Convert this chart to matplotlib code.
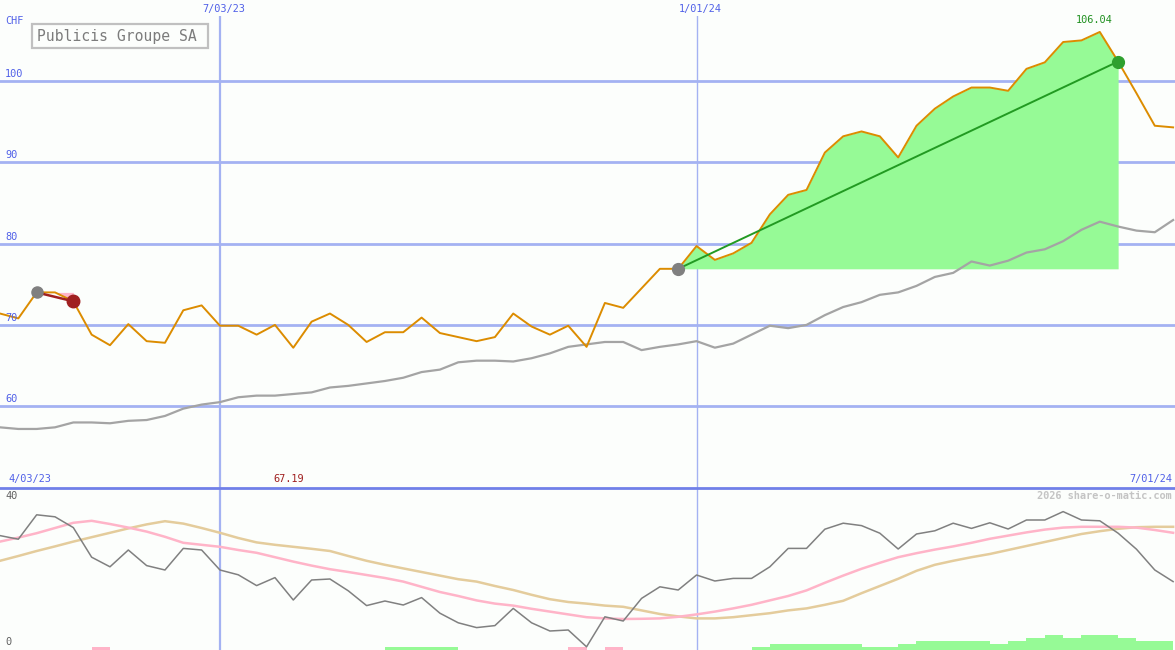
import numpy as np
import matplotlib
matplotlib.use("Agg")
import matplotlib.pyplot as plt
from matplotlib.patches import Rectangle

# weekly closes, Publicis Groupe SA (CHF)
price = [71.4, 70.8, 74.0, 74.0, 72.9, 68.8, 67.5, 70.1, 68.0, 67.8,
         71.8, 72.4, 69.9, 69.9, 68.8, 70.0, 67.19, 70.4, 71.4, 70.0,
         67.9, 69.1, 69.1, 70.9, 69.0, 68.5, 68.0, 68.5, 71.4, 69.8,
         68.8, 69.9, 67.3, 72.7, 72.1, 74.5, 76.9, 76.9, 79.7, 78.0,
         78.8, 80.1, 83.6, 86.0, 86.6, 91.2, 93.2, 93.8, 93.2, 90.6,
         94.5, 96.6, 98.1, 99.2, 99.2, 98.8, 101.5, 102.3, 104.8, 105.0,
         106.04, 102.4, 98.5, 94.5, 94.3]
ma_long = [57.4, 57.2, 57.2, 57.4, 58.0, 58.0, 57.9, 58.2, 58.3, 58.8,
           59.7, 60.2, 60.5, 61.1, 61.3, 61.3, 61.5, 61.7, 62.3, 62.5,
           62.8, 63.1, 63.5, 64.2, 64.5, 65.4, 65.6, 65.6, 65.5, 65.9,
           66.5, 67.3, 67.6, 67.9, 67.9, 66.9, 67.3, 67.6, 68.0, 67.2,
           67.7, 68.8, 69.9, 69.6, 70.0, 71.2, 72.2, 72.8, 73.7, 74.0,
           74.8, 75.9, 76.4, 77.8, 77.3, 77.9, 78.9, 79.3, 80.3, 81.7,
           82.7, 82.1, 81.6, 81.4, 82.9]
osc = [28.6, 27.7, 33.8, 33.3, 30.6, 23.2, 20.8, 25.0, 21.1, 20.0,
       25.4, 25.0, 20.0, 18.8, 16.1, 18.1, 12.5, 17.5, 17.75, 14.8,
       11.1, 12.25, 11.25, 13.1, 9.2, 6.8, 5.6, 6.1, 10.4, 6.8,
       4.75, 5.0, 0.8, 8.3, 7.25, 12.9, 15.8, 15.0, 18.75, 17.25,
       17.9, 17.9, 20.8, 25.4, 25.4, 30.2, 31.7, 31.1, 29.2, 25.25,
       29.0, 29.8, 31.7, 30.4, 31.8, 30.25, 32.5, 32.5, 34.6, 32.5,
       32.3, 29.2, 25.2, 20.0, 17.1]
osc_fast = [27.1, 28.1, 29.2, 30.5, 31.8, 32.3, 31.5, 30.6, 29.6, 28.3,
            26.8, 26.3, 25.8, 25.0, 24.3, 23.2, 22.1, 21.1, 20.2, 19.5,
            18.75, 18.0, 17.1, 15.8, 14.5, 13.5, 12.4, 11.6, 11.1, 10.3,
            9.6, 8.9, 8.2, 7.9, 7.75, 7.8, 7.9, 8.3, 8.9, 9.6,
            10.4, 11.3, 12.4, 13.5, 14.9, 16.8, 18.6, 20.3, 21.8, 23.2,
            24.2, 25.1, 25.9, 26.8, 27.8, 28.6, 29.4, 30.1, 30.6, 30.8,
            30.8, 30.8, 30.6, 30.0, 29.3]
osc_slow = [22.3, 23.5, 24.75, 25.9, 27.1, 28.2, 29.3, 30.4, 31.4, 32.2,
            31.6, 30.5, 29.3, 28.0, 26.9, 26.3, 25.8, 25.3, 24.75, 23.5,
            22.3, 21.3, 20.4, 19.5, 18.6, 17.7, 17.1, 16.0, 15.0, 13.8,
            12.7, 12.0, 11.6, 11.1, 10.8, 9.9, 9.0, 8.4, 7.9, 7.9,
            8.2, 8.7, 9.2, 9.9, 10.4, 11.3, 12.3, 14.2, 16.0, 17.8,
            19.8, 21.3, 22.3, 23.2, 24.0, 25.0, 26.0, 27.0, 28.0, 29.0,
            29.7, 30.3, 30.7, 30.8, 30.8]
hist = [0, 0, 0, 0, 0, -0.75, 0, 0, 0, 0,
        0, 0, 0, 0, 0, 0, 0, 0, 0, 0,
        0, 0.75, 0.75, 0.75, 0.75, 0, 0, 0, 0, 0,
        0, -0.75, 0, -0.75, 0, 0, 0, 0, 0, 0,
        0, 0.75, 1.5, 1.5, 1.5, 1.5, 1.5, 0.75, 0.75, 1.5,
        2.25, 2.25, 2.25, 2.25, 1.5, 2.25, 3.0, 3.75, 3.0, 3.75,
        3.75, 3.0, 2.25, 2.25, 0]
price_ticks = [60, 70, 80, 90, 100]
date_ticks = {12: "7/03/23", 38: "1/01/24"}
start_label, end_label = "4/03/23", "7/01/24"
sell_idx = (2, 4)
buy_idx = (37, 61)

W, H = 1175, 650
bg = "#fcfefc"
grid_c = "#a4b2f2"
lab_c = "#5060e8"
mono = "DejaVu Sans Mono"

weeks = np.arange(len(price))
p = np.array(price)
xmax = W / 18.33

fig = plt.figure(figsize=(W / 100, H / 100), dpi=100, facecolor=bg)
ax = fig.add_axes([0, 163 / H, 1, (487 - 16) / H], facecolor=bg)
ax2 = fig.add_axes([0, 0, 1, 163 / H], facecolor=bg)
for a in (ax, ax2):
    a.set_xlim(0, xmax)
    a.set_xticks([])
    a.set_yticks([])
    for s in a.spines.values():
        s.set_visible(False)
ax.set_ylim(50.06, 108.0)
ax2.set_ylim(0, 40.75)

# grid
for t in price_ticks:
    ax.axhline(t, color=grid_c, lw=2, zorder=1)
    ax.annotate(str(t), (5 / W, t), xycoords=("axes fraction", "data"),
                xytext=(0, 2), textcoords="offset pixels", va="bottom",
                ha="left", color=lab_c, family=mono, fontsize=7.4, zorder=6)
for i, (k, lab) in enumerate(date_ticks.items()):
    lw = 1.6 if i == 0 else 1.0
    ax.axvline(k, color=grid_c, lw=lw, zorder=1)
    ax2.axvline(k, color=grid_c, lw=lw, zorder=1)
    fig.text((k * 18.33 + 4) / W, 1 - 9 / H, lab, ha="center", va="center",
             color=lab_c, family=mono, fontsize=7.4)
ax2.axhline(40.6, color="#7080e8", lw=2, zorder=5, clip_on=False)

# buy / sell periods
b0, b1 = buy_idx
xs = weeks[b0:b1 + 1]
ax.fill_between(xs, p[b0:b1 + 1], p[b0], where=p[b0:b1 + 1] >= p[b0],
                interpolate=True, color="#96fa96", lw=0, zorder=2)
s0, s1 = sell_idx
xs = weeks[s0:s1 + 1]
ax.fill_between(xs, p[s0:s1 + 1], p[s0], where=p[s0:s1 + 1] <= p[s0],
                interpolate=True, color="#ffb4c8", lw=0, zorder=2)

ax.plot(weeks, ma_long, color="#a4a4a4", lw=1.6, zorder=3)
ax.plot(weeks, price, color="#dc8c00", lw=1.4, zorder=4)
ax.plot([b0, b1], [p[b0], p[b1]], color="#229a22", lw=1.4, zorder=5)
ax.plot([s0, s1], [p[s0], p[s1]], color="#a02020", lw=1.8, zorder=5)
ax.plot(b0, p[b0], "o", color="#808080", ms=8.5, zorder=6)
ax.plot(b1, p[b1], "o", color="#2ea02e", ms=8.5, zorder=6)
ax.plot(s0, p[s0], "o", color="#808080", ms=8, zorder=6)
ax.plot(s1, p[s1], "o", color="#a02020", ms=9, zorder=6)

imax = int(np.argmax(p))
ax.annotate(f"{p[imax]:.2f}", (imax, p[imax]), xytext=(-6, 7),
            textcoords="offset pixels", ha="center", va="bottom",
            color="#209020", family=mono, fontsize=7.4, zorder=6)
imin = int(np.argmin(p))
fig.text((imin * 18.33 - 5) / W, 1 - 479 / H, f"{p[imin]:.2f}", ha="center",
         va="center", color="#a02020", family=mono, fontsize=7.4)

# title box
fig.add_artist(Rectangle((32 / W, 1 - 48 / H), 176 / W, 24 / H,
                         transform=fig.transFigure, fc="#fcfefc",
                         ec="#c0c0c0", lw=1.6, zorder=7))
fig.text(37 / W, 1 - 36.5 / H, "Publicis Groupe SA", ha="left", va="center",
         color="#7c7c7c", family=mono, fontsize=10.6, zorder=8)
fig.text(5 / W, 1 - 21 / H, "CHF", ha="left", va="center", color=lab_c,
         family=mono, fontsize=7.4)
fig.text(8 / W, 1 - 479 / H, start_label, ha="left", va="center",
         color=lab_c, family=mono, fontsize=7.4)
fig.text(1172 / W, 1 - 479 / H, end_label, ha="right", va="center",
         color=lab_c, family=mono, fontsize=7.4)

# oscillator panel
colors = ["#96fa96" if v > 0 else "#ffb4c8" for v in hist]
ax2.bar(weeks, np.abs(hist), width=1.0, align="edge", color=colors, lw=0,
        zorder=2)
ax2.plot(weeks, osc_slow, color="#e4cc9c", lw=1.8, zorder=3)
ax2.plot(weeks, osc_fast, color="#ffb4c8", lw=1.8, zorder=3)
ax2.plot(weeks, osc, color="#808080", lw=1.1, zorder=4)
fig.text(5 / W, 1 - 496 / H, "40", ha="left", va="center", color="#606060",
         family=mono, fontsize=7.4)
fig.text(5 / W, 1 - 642 / H, "0", ha="left", va="center", color="#606060",
         family=mono, fontsize=7.4)
fig.text(1172 / W, 1 - 496 / H, "2026 share-o-matic.com", ha="right",
         va="center", color="#c4c4c4", family=mono, fontsize=7.4,
         fontweight="bold")

fig.savefig("out.png", dpi=100, facecolor=bg)
